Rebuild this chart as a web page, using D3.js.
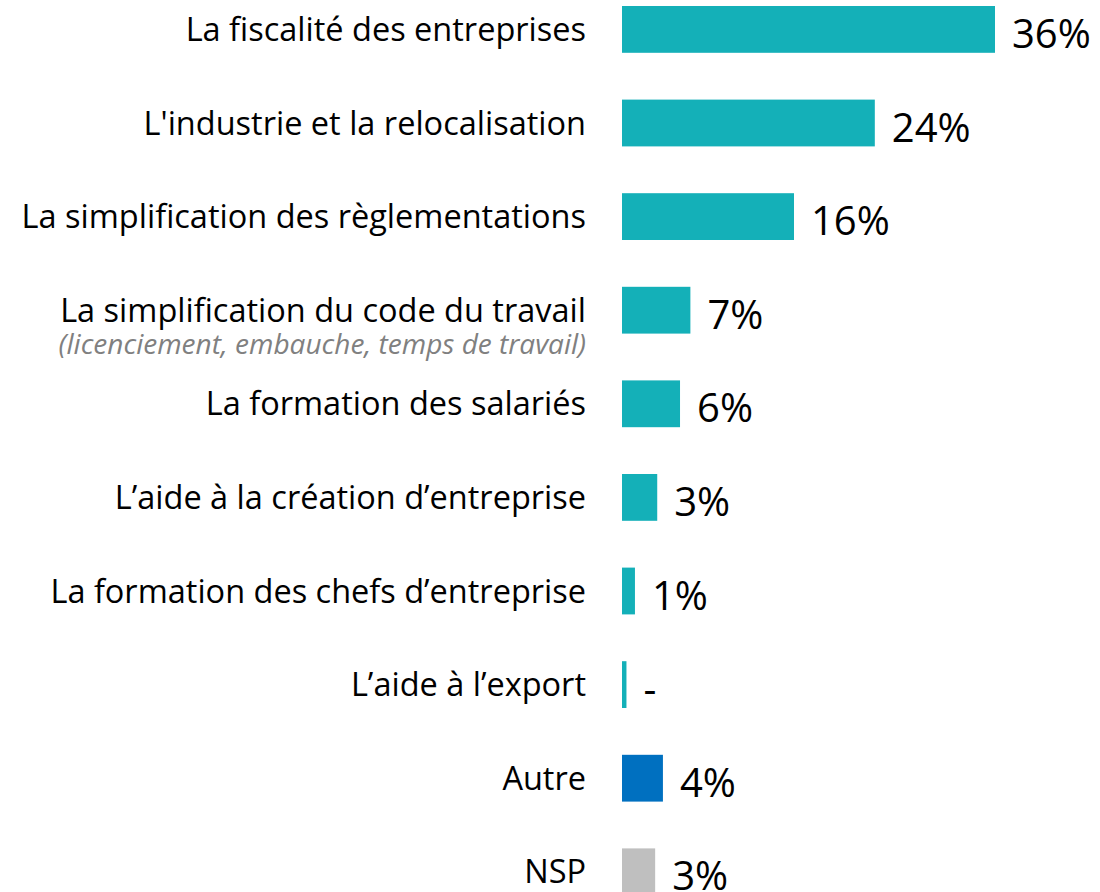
<!DOCTYPE html>
<html>
<head>
<meta charset="utf-8">
<script src="https://cdn.jsdelivr.net/npm/d3@7"></script>
<style>
  body { margin: 0; background: #fff; }
  svg { display: block; font-family: "Open Sans", sans-serif; }
</style>
</head>
<body>
<div class="chart"></div>
<script>
// categories (top to bottom)
const categories = [
  "La fiscalité des entreprises",
  "L'industrie et la relocalisation",
  "La simplification des règlementations",
  "La simplification du code du travail",
  "La formation des salariés",
  "L’aide à la création d’entreprise",
  "La formation des chefs d’entreprise",
  "L’aide à l’export",
  "Autre",
  "NSP"
];
const subLabels = ["", "", "", "(licenciement, embauche, temps de travail)", "", "", "", "", "", ""];
// values
const values = [36, 24.4, 16.6, 6.6, 5.6, 3.4, 1.25, 0.43, 3.95, 3.2];
const valueLabels = ["36%", "24%", "16%", "7%", "6%", "3%", "1%", "-", "4%", "3%"];
const colors = ["#14B0B8", "#14B0B8", "#14B0B8", "#14B0B8", "#14B0B8", "#14B0B8", "#14B0B8", "#14B0B8", "#0070C0", "#BFBFBF"];

const width = 1100;
const height = 892;
const left = 622;

const svg = d3.select('.chart')
  .append('svg')
  .attr('width', width)
  .attr('height', height);

const x = d3.scaleLinear()
  .domain([0, 36])
  .range([0, 373]);

const y = d3.scaleBand()
  .domain(d3.range(categories.length))
  .range([-17.4, 918.6])
  .paddingInner(0.5)
  .paddingOuter(0.25);

const rows = svg.selectAll('g.row')
  .data(values)
  .enter()
  .append('g')
  .attr('class', 'row')
  .attr('transform', (d, i) => `translate(0, ${y(i)})`);

rows.append('rect')
  .attr('x', left)
  .attr('y', 0)
  .attr('width', d => x(d))
  .attr('height', y.bandwidth())
  .attr('fill', (d, i) => colors[i]);

// value labels
rows.append('text')
  .attr('x', d => left + x(d) + 17)
  .attr('y', y.bandwidth() / 2 + 18.5)
  .attr('font-size', 40)
  .attr('fill', '#000')
  .text((d, i) => valueLabels[i]);

// category labels
rows.append('text')
  .attr('x', 586)
  .attr('y', y.bandwidth() / 2 + 11.5)
  .attr('text-anchor', 'end')
  .attr('font-size', 32.5)
  .attr('fill', '#000')
  .text((d, i) => categories[i]);

// grey italic detail under the code du travail label
rows.filter((d, i) => subLabels[i] !== '')
  .append('text')
  .attr('x', 586)
  .attr('y', y.bandwidth() / 2 + 44)
  .attr('text-anchor', 'end')
  .attr('font-size', 28)
  .attr('font-style', 'italic')
  .attr('fill', '#808080')
  .text(subLabels[3]);
</script>
</body>
</html>
